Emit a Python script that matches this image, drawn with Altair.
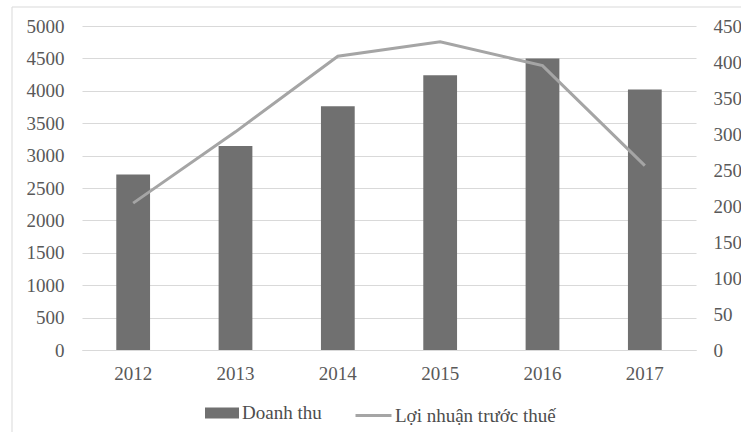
import altair as alt
import pandas as pd

# Revenue (bars, left axis) and pre-tax profit (line, right axis) by year
years = ["2012", "2013", "2014", "2015", "2016", "2017"]
doanh_thu = [2710, 3150, 3760, 4240, 4500, 4020]
loi_nhuan = [204, 303, 408, 428, 395, 256]

left_ticks = [0, 500, 1000, 1500, 2000, 2500, 3000, 3500, 4000, 4500, 5000]
right_ticks = [0, 50, 100, 150, 200, 250, 300, 350, 400, 450]

BAR_NAME = "Doanh thu"
LINE_NAME = "Lợi nhuận trước thuế"

FONT = "Liberation Serif"
LEGEND_FONT = "Liberation Serif, Times New Roman, serif"
GRID = "#d9d9d9"
LABEL = "#595959"
LEGEND_LABEL = "#4d4d4d"

df = pd.DataFrame({
    "year": years,
    "revenue": doanh_thu,
    "profit": loi_nhuan,
    "bar_series": BAR_NAME,
    "line_series": LINE_NAME,
})

x_enc = alt.X(
    "year:N",
    sort=years,
    scale=alt.Scale(paddingInner=0, paddingOuter=0),
    axis=alt.Axis(title=None, labelAngle=0, ticks=False, domain=True,
                  domainColor=GRID, grid=False, labelPadding=14),
)

bars = alt.Chart(df).mark_bar(width=alt.RelativeBandSize(0.33)).encode(
    x=x_enc,
    y=alt.Y("revenue:Q",
            scale=alt.Scale(domain=[0, 5000], nice=False),
            axis=alt.Axis(values=left_ticks, format="d", title=None, ticks=False,
                          domain=False, grid=True, gridColor=GRID, labelPadding=18)),
    fill=alt.Fill("bar_series:N",
                  scale=alt.Scale(domain=[BAR_NAME], range=["#707070"]),
                  legend=alt.Legend(orient="none", legendX=123, legendY=370, title=None,
                                    symbolType="M-1,-0.32L1,-0.32L1,0.32L-1,0.32Z",
                                    symbolSize=1156, symbolStrokeWidth=0,
                                    labelFont=LEGEND_FONT, labelFontSize=19,
                                    labelColor=LEGEND_LABEL, labelLimit=400,
                                    labelOffset=3, padding=0)),
)

line = alt.Chart(df).mark_line(strokeWidth=3).encode(
    x=x_enc,
    y=alt.Y("profit:Q",
            scale=alt.Scale(domain=[0, 450], nice=False),
            axis=alt.Axis(values=right_ticks, format="d", title=None, orient="right",
                          ticks=False, domain=False, grid=False, labelPadding=17,
                          labelAlign="left")),
    stroke=alt.Stroke("line_series:N",
                      scale=alt.Scale(domain=[LINE_NAME], range=["#a5a5a5"]),
                      legend=alt.Legend(orient="none", legendX=272, legendY=370, title=None,
                                        symbolType="stroke", symbolSize=1296,
                                        symbolStrokeWidth=3,
                                        labelFont=LEGEND_FONT, labelFontSize=19,
                                        labelColor=LEGEND_LABEL, labelLimit=400,
                                        labelOffset=2, padding=0)),
)

# light frame around the chart area
frame = alt.Chart(pd.DataFrame({"k": [0]})).mark_rect(
    fillOpacity=0, stroke=GRID, strokeWidth=1
).encode(
    x=alt.value(-70), x2=alt.value(720),
    y=alt.value(-19), y2=alt.value(460),
)

chart = alt.layer(bars, line, frame).resolve_scale(
    y="independent", fill="independent", stroke="independent"
).properties(
    width=614, height=324,
    autosize=alt.AutoSizeParams(type="none"),
    padding={"left": 82, "top": 26, "right": 45, "bottom": 82},
).configure(
    font=FONT,
).configure_view(
    stroke=None
).configure_axis(
    labelFont=FONT, labelFontSize=19, labelColor=LABEL
).configure_legend(
    labelFont=LEGEND_FONT, labelFontSize=19, labelColor=LEGEND_LABEL, labelLimit=400
)

chart.save("out.html", embed_options={"renderer": "svg", "actions": False})
